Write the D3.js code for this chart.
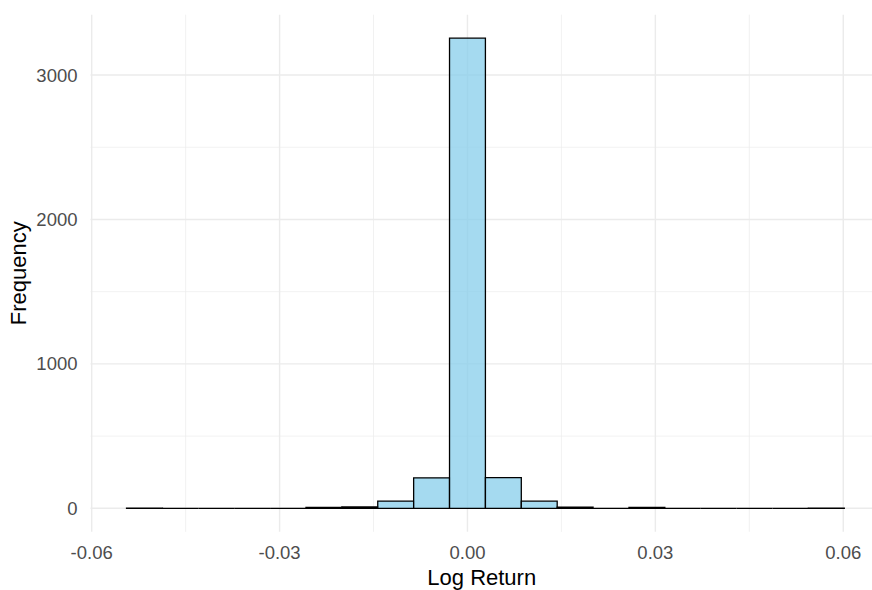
<!DOCTYPE html>
<html><head><meta charset="utf-8">
<script src="https://cdn.jsdelivr.net/npm/d3@7"></script>
<style>body{margin:0;background:#fff}svg{display:block}text{font-family:"Liberation Sans",Arial,sans-serif}</style>
</head><body><svg id="c" width="872" height="590"></svg>
<script>
const binStarts = [-0.054435,-0.048705,-0.042975,-0.037245,-0.031515,-0.025785,-0.020055,-0.014325,-0.008595,-0.002865,0.002865,0.008595,0.014325,0.020055,0.025785,0.031515,0.037245,0.042975,0.048705,0.054435];
const binEnds   = [-0.048705,-0.042975,-0.037245,-0.031515,-0.025785,-0.020055,-0.014325,-0.008595,-0.002865,0.002865,0.008595,0.014325,0.020055,0.025785,0.031515,0.037245,0.042975,0.048705,0.054435,0.060165];
const counts    = [1,0,0,0,0,7,9,50,211,3255,212,49,8,0,6,0,0,0,0,1];
const xTicks = [-0.06,-0.03,0,0.03,0.06];
const xTickLabels = ["-0.06","-0.03","0.00","0.03","0.06"];
const xMinor = [-0.045,-0.015,0.015,0.045];
const yTicks = [0,1000,2000,3000];
const yTickLabels = ["0","1000","2000","3000"];
const yMinor = [500,1500,2500];

const svg = d3.select("#c");
const P = {l:90.5, r:873, t:14.7, b:531.8};
const x = d3.scaleLinear().domain([-0.06019,0.06475]).range([P.l,P.r]);
const y = d3.scaleLinear().domain([-162.75,3417.75]).range([P.b,P.t]);

const g = svg.append("g");
g.selectAll(".xm").data(xMinor).join("line").attr("x1",d=>x(d)).attr("x2",d=>x(d)).attr("y1",P.t).attr("y2",P.b).attr("stroke","#EBEBEB").attr("stroke-width",0.71);
g.selectAll(".ym").data(yMinor).join("line").attr("y1",d=>y(d)).attr("y2",d=>y(d)).attr("x1",P.l).attr("x2",P.r).attr("stroke","#EBEBEB").attr("stroke-width",0.71);
g.selectAll(".xM").data(xTicks).join("line").attr("x1",d=>x(d)).attr("x2",d=>x(d)).attr("y1",P.t).attr("y2",P.b).attr("stroke","#EBEBEB").attr("stroke-width",1.42);
g.selectAll(".yM").data(yTicks).join("line").attr("y1",d=>y(d)).attr("y2",d=>y(d)).attr("x1",P.l).attr("x2",P.r).attr("stroke","#EBEBEB").attr("stroke-width",1.42);

const bins = counts.map((c,i)=>({x0:binStarts[i],x1:binEnds[i],c}));
svg.append("g").selectAll("path").data(bins).join("path")
  .attr("d",d=>{const a=x(d.x0),b=x(d.x1),t=y(d.c),z=y(0);return `M${a},${z}V${t}H${b}V${z}Z`;})
  .attr("fill","#87CEEB").attr("fill-opacity",0.75).attr("stroke","#000").attr("stroke-width",1.3);

svg.append("g").selectAll("text").data(xTicks).join("text")
  .attr("x",d=>x(d)).attr("y",559).attr("text-anchor","middle").attr("font-size",18.5).attr("fill","#4D4D4D")
  .text((d,i)=>xTickLabels[i]);
svg.append("g").selectAll("text").data(yTicks).join("text")
  .attr("x",77.5).attr("y",d=>y(d)).attr("dy","0.35em").attr("text-anchor","end").attr("font-size",18.5).attr("fill","#4D4D4D")
  .text((d,i)=>yTickLabels[i]);

svg.append("text").attr("x",(P.l+P.r)/2).attr("y",585).attr("text-anchor","middle").attr("font-size",22).attr("fill","#000").text("Log Return");
svg.append("text").attr("transform",`translate(26,${(P.t+P.b)/2}) rotate(-90)`).attr("text-anchor","middle").attr("font-size",22).attr("fill","#000").text("Frequency");
</script></body></html>
